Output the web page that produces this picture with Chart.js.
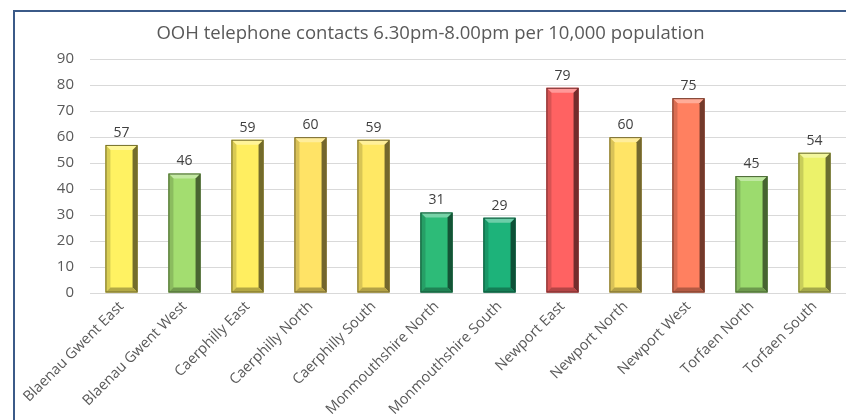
<!DOCTYPE html>
<html><head><meta charset="utf-8">
<script src="https://cdn.jsdelivr.net/npm/chart.js@4"></script>
<style>
html,body{margin:0;padding:0;background:#fff;overflow:hidden}
#frame{position:absolute;left:13px;top:10px;width:833px;height:410px;border-left:2px solid #3b5a88;border-top:2px solid #3b5a88;box-sizing:border-box}
#wrap{position:absolute;left:0;top:0;width:831px;height:408px}
</style></head>
<body>
<div id="frame"><div id="wrap"><canvas id="c" width="831" height="408"></canvas></div></div>
<script>
const categories = ["Blaenau Gwent East","Blaenau Gwent West","Caerphilly East","Caerphilly North","Caerphilly South","Monmouthshire North","Monmouthshire South","Newport East","Newport North","Newport West","Torfaen North","Torfaen South"];
const values = [57,46,59,60,59,31,29,79,60,75,45,54];
const barColors = ["#FFF262","#A3DD70","#FFEE60","#FFE366","#FFE864","#2DBB78","#1DB37A","#FF6262","#FFE466","#FF8060","#9CDB6E","#ECF26A"];
const yTicks = [0,10,20,30,40,50,60,70,80,90];
const titleText = "OOH telephone contacts 6.30pm-8.00pm per 10,000 population";
const FONT = '"Open Sans", Lato, sans-serif';

function shade(hex, f){
  const n=parseInt(hex.slice(1),16);let r=n>>16,g=(n>>8)&255,b=n&255;
  if(f<0){r=Math.round(r*(1+f));g=Math.round(g*(1+f));b=Math.round(b*(1+f));}
  else{r=Math.round(r+(255-r)*f);g=Math.round(g+(255-g)*f);b=Math.round(b+(255-b)*f);}
  return `rgb(${r},${g},${b})`;
}

const bevel = {
  id:'bevel',
  afterDatasetsDraw(chart){
    const ctx=chart.ctx;
    const meta=chart.getDatasetMeta(0);
    meta.data.forEach((bar,i)=>{
      const p=bar.getProps(['x','y','base','width'],true);
      const l=p.x-p.width/2, r=p.x+p.width/2, t=p.y, b=p.base, d=5;
      const c=barColors[i];
      ctx.save();
      ctx.fillStyle=shade(c,0.35);
      ctx.beginPath();ctx.moveTo(l,t);ctx.lineTo(r,t);ctx.lineTo(r-d,t+d);ctx.lineTo(l+d,t+d);ctx.closePath();ctx.fill();
      ctx.fillStyle=shade(c,-0.15);
      ctx.beginPath();ctx.moveTo(l,t);ctx.lineTo(l+d,t+d);ctx.lineTo(l+d,b-d);ctx.lineTo(l,b);ctx.closePath();ctx.fill();
      ctx.fillStyle=shade(c,-0.55);
      ctx.beginPath();ctx.moveTo(r,t);ctx.lineTo(r-d,t+d);ctx.lineTo(r-d,b-d);ctx.lineTo(r,b);ctx.closePath();ctx.fill();
      ctx.fillStyle=shade(c,-0.3);
      ctx.beginPath();ctx.moveTo(l,b);ctx.lineTo(l+d,b-d);ctx.lineTo(r-d,b-d);ctx.lineTo(r,b);ctx.closePath();ctx.fill();
      ctx.strokeStyle=shade(c,-0.55);ctx.lineWidth=1;
      ctx.strokeRect(l+0.5,t+0.5,p.width-1,b-t-1);
      ctx.restore();
    });
  }
};

const labels = {
  id:'vlabels',
  afterDatasetsDraw(chart){
    const ctx=chart.ctx;
    const meta=chart.getDatasetMeta(0);
    ctx.save();
    ctx.font='14px '+FONT;
    ctx.fillStyle='#404040';
    ctx.textAlign='center';ctx.textBaseline='middle';
    meta.data.forEach((bar,i)=>{ctx.fillText(String(values[i]),bar.x,bar.y-12);});
    ctx.restore();
  }
};

new Chart(document.getElementById('c'),{
  type:'bar',
  data:{labels:categories,datasets:[{data:values,backgroundColor:barColors,borderWidth:0,barPercentage:0.51,categoryPercentage:1}]},
  options:{
    responsive:false,animation:false,
    layout:{padding:0},
    plugins:{legend:{display:false},tooltip:{enabled:false},
      title:{display:true,text:titleText,color:'#595959',font:{family:FONT,size:18.5,weight:'normal'},padding:{top:11,bottom:14}}},
    scales:{
      x:{grid:{display:false,drawTicks:false},border:{display:false},
        ticks:{color:'#595959',font:{family:FONT,size:14.5},minRotation:45,maxRotation:45,padding:5,autoSkip:false},
        afterFit(s){s.height=127;}},
      y:{min:0,max:90,grid:{color:'#D9D9D9',drawTicks:false},border:{display:false},
        afterBuildTicks(s){s.ticks=yTicks.map(v=>({value:v}));},
        ticks:{color:'#595959',font:{family:FONT,size:15},padding:16},
        afterFit(s){s.width=75;}}
    }
  },
  plugins:[bevel,labels]
});
</script>
</body></html>
